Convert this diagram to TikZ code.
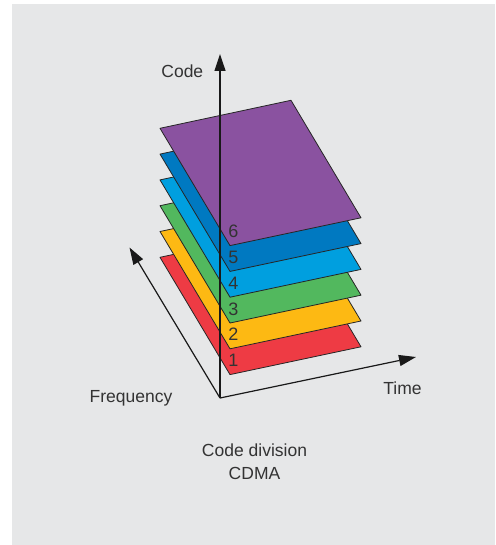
\documentclass[tikz,border=0pt]{standalone}
\usepackage{fontspec}
\setmainfont{Liberation Sans}
\usetikzlibrary{arrows.meta}
\definecolor{bggray}{HTML}{E6E7E8}
\definecolor{txt}{HTML}{333333}
\definecolor{cred}{HTML}{EE3B44}
\definecolor{cyellow}{HTML}{FDB913}
\definecolor{cgreen}{HTML}{52B85E}
\definecolor{clblue}{HTML}{009FDF}
\definecolor{cdblue}{HTML}{0079C1}
\definecolor{cpurple}{HTML}{8A52A0}
\tikzset{
  axis/.style={line width=1.2pt, draw=black!90, -{Triangle[length=17pt,width=11pt]}},
  plane/.style={draw=black!85, line width=0.8pt, line join=round},
  lbl/.style={text=txt, font=\fontsize{17.5}{20}\selectfont, inner sep=0pt, anchor=base},
  num/.style={text=txt, font=\fontsize{18}{20}\selectfont, inner sep=0pt, anchor=base}
}
\begin{document}
\begin{tikzpicture}[x=1pt,y=-1pt]
\useasboundingbox (0,0) rectangle (495,545);
\fill[bggray] (12,4) rectangle (495,545);
% axes (time and frequency below planes)
\coordinate (O) at (220,398);
\coordinate (tT) at (416,357);
\coordinate (tF) at (129.5,247.5);
\coordinate (tC) at (220,54);
\draw[axis] (O) -- (tT);
\draw[axis] (O) -- (tF);
% planes
\foreach \k/\c in {0/cred,1/cyellow,2/cgreen,3/clblue,4/cdblue,5/cpurple}{
  \pgfmathsetmacro{\yy}{257.3-25.8*\k}
  \filldraw[plane, fill=\c] (160,\yy) -- (230,\yy+117.3) -- (361,\yy+89.5) -- (291,\yy-28) -- cycle;
}
% code axis on top
\draw[axis] (O) -- (tC);
% plane numbers
\foreach \k/\n in {0/1,1/2,2/3,3/4,4/5,5/6}{
  \pgfmathsetmacro{\yy}{257.3-25.8*\k+109.3}
  \node[num] (n\n) at (233.5,\yy) {\n};
}
% labels
\node[lbl] (code) at (182.3,77.3) {Code};
\node[lbl] (time) at (402.5,394.3) {Time};
\node[lbl] (freq) at (131,402.3) {Frequency};
\node[lbl] (cd1) at (254.5,456) {Code division};
\node[lbl] (cd2) at (254.5,479) {CDMA};
\end{tikzpicture}
\end{document}
